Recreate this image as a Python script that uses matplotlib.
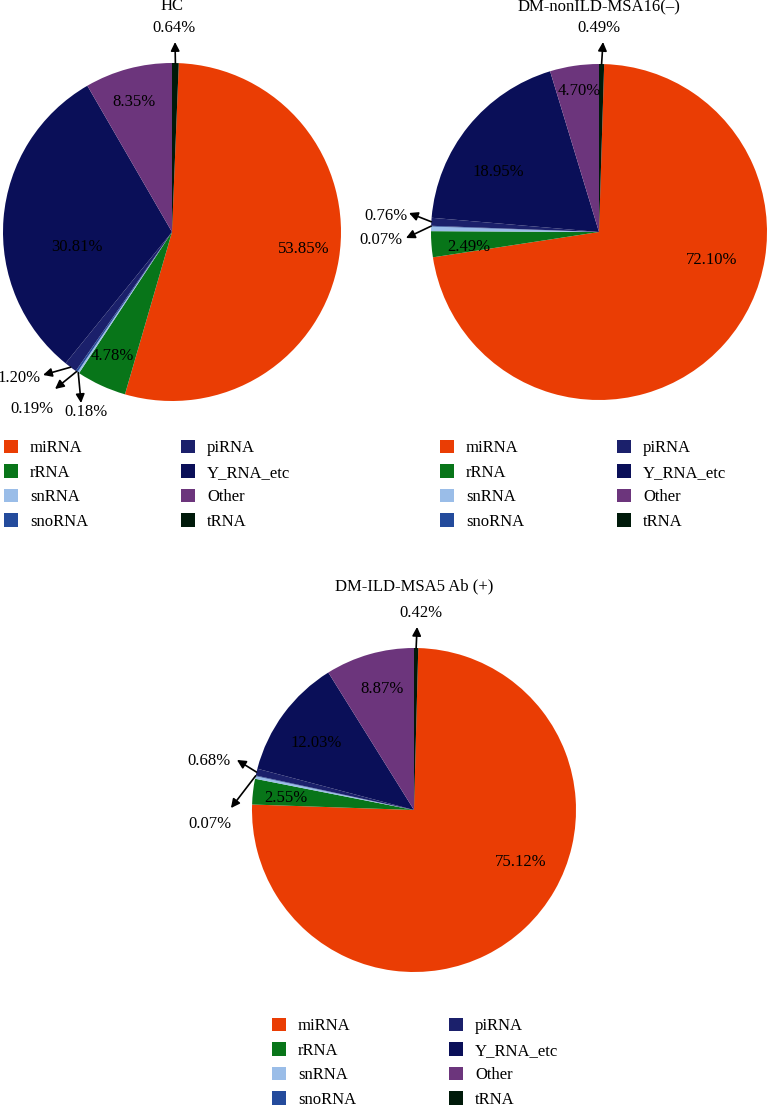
import matplotlib
matplotlib.use('Agg')
import matplotlib.pyplot as plt
from matplotlib.patches import Patch
import numpy as np

plt.rcParams['font.family'] = ['Liberation Serif', 'DejaVu Serif']

# legend / category order
categories = ["miRNA", "rRNA", "snRNA", "snoRNA", "piRNA", "Y_RNA_etc", "Other", "tRNA"]
colors = ["#EA3D04", "#087519", "#9ABDE8", "#244B9C", "#1B206B", "#0A0F58", "#6C357C", "#001A0A"]

titles = ["HC", "DM-nonILD-MSA16(\u2013)", "DM-ILD-MSA5 Ab (+)"]

# percentages per group, same order as categories
hc_vals = [53.85, 4.78, 0.18, 0.19, 1.20, 30.81, 8.35, 0.64]
nonild_vals = [72.10, 2.49, 0.44, 0.07, 0.76, 18.95, 4.70, 0.49]
ild_vals = [75.12, 2.55, 0.26, 0.07, 0.68, 12.03, 8.87, 0.42]

# which slices get an inside label / an arrow label
hc_inside = ["miRNA", "rRNA", "Y_RNA_etc", "Other"]
hc_arrow = ["tRNA", "piRNA", "snoRNA", "snRNA"]
nonild_inside = ["miRNA", "rRNA", "Y_RNA_etc", "Other"]
nonild_arrow = ["tRNA", "piRNA", "snoRNA"]
ild_inside = ["miRNA", "rRNA", "Y_RNA_etc", "Other"]
ild_arrow = ["tRNA", "piRNA", "snoRNA"]

W, H = 768, 1108
fig = plt.figure(figsize=(W / 100, H / 100), dpi=100)

# layout in pixels: pie center, radius, title y, legend top-left
layouts = [
    dict(c=(172, 232), r=169, ty=6, leg=(4, 440)),
    dict(c=(599, 232), r=168, ty=7, leg=(440, 440)),
    dict(c=(414, 810), r=162, ty=586, leg=(272, 1018)),
]

# text placement inside slices (in radius units, relative to center)
inside_pos = [
    {"miRNA": (0.781, -0.101), "rRNA": (-0.355, -0.734), "Y_RNA_etc": (-0.562, -0.089), "Other": (-0.225, 0.769)},
    {"miRNA": (0.673, -0.167), "rRNA": (-0.774, -0.089), "Y_RNA_etc": (-0.601, 0.357), "Other": (-0.119, 0.839)},
    {"miRNA": (0.660, -0.321), "rRNA": (-0.790, 0.074), "Y_RNA_etc": (-0.605, 0.414), "Other": (-0.198, 0.747)},
]
# arrow end and label position for small slices
arrow_pos = [
    {"tRNA": ((0.018, 1.124), (0.012, 1.207)),
     "piRNA": ((-0.763, -0.846), (-0.905, -0.864)),
     "snoRNA": ((-0.692, -0.929), (-0.828, -1.047)),
     "snRNA": ((-0.538, -1.012), (-0.509, -1.065))},
    {"tRNA": ((0.024, 1.131), (0.0, 1.214)),
     "piRNA": ((-1.131, 0.113), (-1.268, 0.095)),
     "snoRNA": ((-1.149, -0.036), (-1.298, -0.048))},
    {"tRNA": ((0.019, 1.130), (0.043, 1.216)),
     "piRNA": ((-1.093, 0.309), (-1.265, 0.302)),
     "snoRNA": ((-1.130, 0.012), (-1.259, -0.086))},
]

groups = [
    (hc_vals, hc_inside, hc_arrow),
    (nonild_vals, nonild_inside, nonild_arrow),
    (ild_vals, ild_inside, ild_arrow),
]

FS = 12
L = 1.45  # axes half-width in radius units

for i, (vals, inside, arrows) in enumerate(groups):
    lay = layouts[i]
    cx, cy = lay["c"]
    r = lay["r"]
    half = L * r
    ax = fig.add_axes([(cx - half) / W, (H - cy - half) / H, 2 * half / W, 2 * half / H])

    # tRNA sits first clockwise from 12 o'clock
    start = 90 - vals[-1] * 3.6
    wedges, _ = ax.pie(vals, colors=colors, startangle=start, counterclock=False,
                       radius=1.0, wedgeprops=dict(linewidth=0))
    ax.set_xlim(-L, L)
    ax.set_ylim(-L, L)
    ax.set_aspect('equal')
    ax.axis('off')

    for name in inside:
        k = categories.index(name)
        x, y = inside_pos[i][name]
        ax.text(x, y, f"{vals[k]:.2f}%", ha='center', va='center', fontsize=FS, color='black')

    for name in arrows:
        k = categories.index(name)
        w = wedges[k]
        mid = np.deg2rad((w.theta1 + w.theta2) / 2)
        rim = (np.cos(mid), np.sin(mid))
        end, tpos = arrow_pos[i][name]
        ax.annotate('', xy=end, xytext=rim,
                    arrowprops=dict(arrowstyle='-|>', color='black', lw=1.2,
                                    mutation_scale=13, shrinkA=0, shrinkB=0),
                    annotation_clip=False)
        ax.text(tpos[0], tpos[1], f"{vals[k]:.2f}%", ha='center', va='center', fontsize=FS)

    fig.text(cx / W, 1 - lay["ty"] / H, titles[i], ha='center', va='center', fontsize=FS)

    handles = [Patch(facecolor=c, edgecolor='none') for c in colors]
    lx, ly = lay["leg"]
    fig.legend(handles, categories, loc='upper left', bbox_to_anchor=(lx / W, 1 - ly / H),
               ncol=2, frameon=False, fontsize=FS, handlelength=0.85, handleheight=0.85,
               handletextpad=0.7, labelspacing=0.48, columnspacing=5.6,
               borderpad=0, borderaxespad=0)

fig.savefig("out.png", dpi=100)
